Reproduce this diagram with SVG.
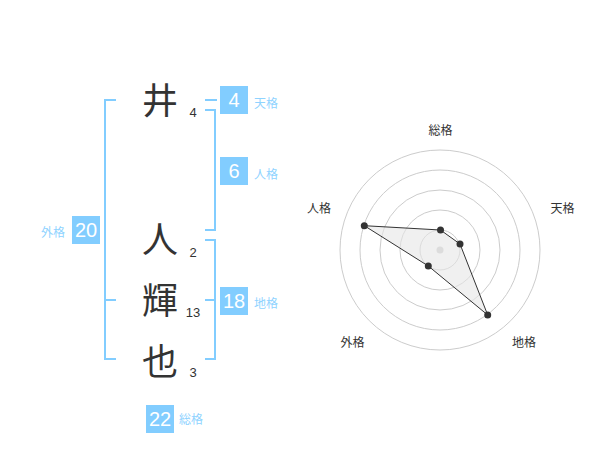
<svg xmlns="http://www.w3.org/2000/svg" width="600" height="470" viewBox="0 0 600 470">
<style>
.br{fill:none;stroke:#82cdff;stroke-width:2}
.box{fill:#82cdff}
.bn{font-family:"Liberation Sans",Arial,sans-serif;font-size:20px;fill:#fff;text-anchor:middle}
.lb{font-family:"Liberation Sans","Noto Sans CJK JP",sans-serif;font-size:12px;fill:#8fd3ff}
.kj{font-family:"Noto Sans CJK JP","Noto Sans CJK SC",sans-serif;font-size:36px;fill:#333;text-anchor:middle}
.sn{font-family:"Liberation Sans",Arial,sans-serif;font-size:13px;fill:#333;text-anchor:middle}
.rc{fill:none;stroke:#ccc;stroke-width:1}
.rl{font-family:"Liberation Sans","Noto Sans CJK JP",sans-serif;font-size:12px;fill:#333;text-anchor:middle}
.pt{fill:#333}
</style>
<rect width="600" height="470" fill="#fff"/>
<g id="connectors">
<path class="br" d="M116,100 H105 V359 H116 M105,300 H116"/>
<path class="br" d="M205,100 H217"/>
<path class="br" d="M205,110 H215 V230 H205"/>
<path class="br" d="M205,240 H215 V359 H205 M205,300 H215"/>
</g>
<g id="char-i"><text class="kj" x="160" y="114">井</text><text class="sn" x="193" y="117">4</text></g>
<g id="char-hito"><text class="kj" x="160" y="253">人</text><text class="sn" x="193" y="257">2</text></g>
<g id="char-ki"><text class="kj" x="160" y="314">輝</text><text class="sn" x="193" y="317">13</text></g>
<g id="char-ya"><text class="kj" x="160" y="375">也</text><text class="sn" x="193" y="377">3</text></g>
<g id="tenkaku"><rect class="box" x="220" y="86" width="28" height="28"/><text class="bn" x="234" y="107">4</text><text class="lb" x="254" y="108">天格</text></g>
<g id="jinkaku"><rect class="box" x="220" y="157" width="28" height="28"/><text class="bn" x="234" y="178">6</text><text class="lb" x="254" y="179">人格</text></g>
<g id="gaikaku"><rect class="box" x="72" y="216" width="28" height="28"/><text class="bn" x="86" y="237">20</text><text class="lb" x="41" y="237">外格</text></g>
<g id="chikaku"><rect class="box" x="220" y="287" width="28" height="28"/><text class="bn" x="234" y="308">18</text><text class="lb" x="254" y="308">地格</text></g>
<g id="soukaku"><rect class="box" x="146" y="405" width="28" height="28"/><text class="bn" x="160" y="426">22</text><text class="lb" x="179" y="424">総格</text></g>
<g id="radar">
<circle class="rc" cx="440" cy="250" r="20"/>
<circle class="rc" cx="440" cy="250" r="40"/>
<circle class="rc" cx="440" cy="250" r="60"/>
<circle class="rc" cx="440" cy="250" r="80"/>
<circle class="rc" cx="440" cy="250" r="100"/>
<circle cx="440" cy="250" r="3.5" fill="#ccc"/>
<polygon points="440.5,230 460,244 487.7,315 428.3,266 364.3,225.7" fill="#e6e6e6" fill-opacity="0.6" stroke="#333" stroke-width="1"/>
<circle class="pt" cx="440.5" cy="230" r="3.5"/>
<circle class="pt" cx="460" cy="244" r="3.5"/>
<circle class="pt" cx="487.7" cy="315" r="3.5"/>
<circle class="pt" cx="428.3" cy="266" r="3.5"/>
<circle class="pt" cx="364.3" cy="225.7" r="3.5"/>
<text class="rl" x="440.5" y="135">総格</text>
<text class="rl" x="562.5" y="212.5">天格</text>
<text class="rl" x="319" y="212.5">人格</text>
<text class="rl" x="352.5" y="347">外格</text>
<text class="rl" x="524" y="347">地格</text>
</g>
</svg>
